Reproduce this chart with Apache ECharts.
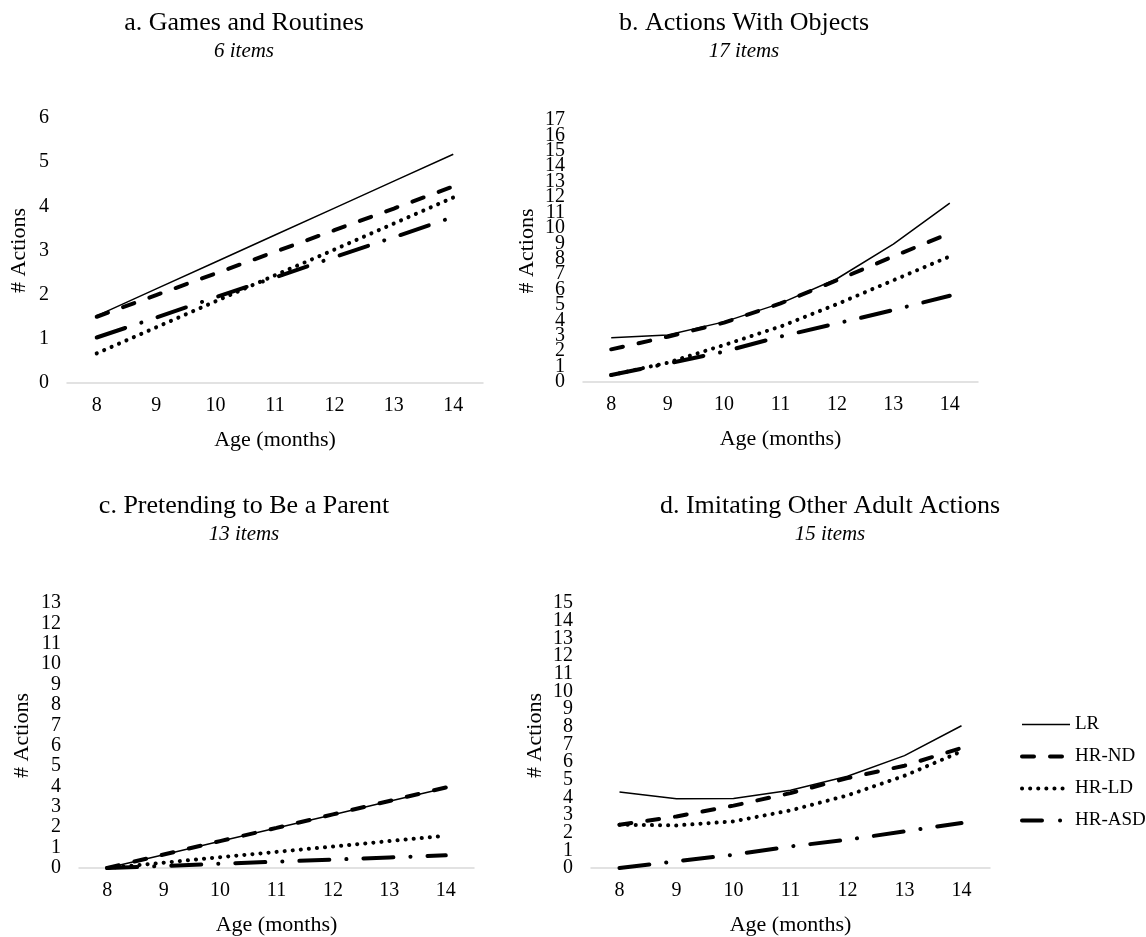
<!DOCTYPE html>
<html>
<head>
<meta charset="utf-8">
<title>Actions by age</title>
<script src="https://cdn.jsdelivr.net/npm/echarts@6/dist/echarts.min.js"></script>
<style>
    html, body { margin: 0; padding: 0; background: #fff; }
    #chart { width: 1146px; height: 937px; }
</style>
</head>
<body>
<div id="chart"></div>
<script>
// x轴 月龄
var months = ['8', '9', '10', '11', '12', '13', '14'];
var groups = ['LR', 'HR-ND', 'HR-LD', 'HR-ASD'];

// a. Games and Routines
var aLR = [1.52, 2.13, 2.74, 3.35, 3.96, 4.57, 5.18];
var aND = [1.50, 1.99, 2.48, 2.97, 3.46, 3.95, 4.45];
var aLD = [0.67, 1.26, 1.85, 2.44, 3.02, 3.61, 4.20];
var aASD = [1.03, 1.48, 1.94, 2.39, 2.85, 3.30, 3.76];

// b. Actions With Objects
var bLR = [2.87, 3.05, 3.90, 5.10, 6.70, 8.95, 11.6];
var bND = [2.12, 2.94, 3.85, 5.10, 6.60, 8.15, 9.65];
var bLD = [0.45, 1.25, 2.40, 3.60, 5.05, 6.60, 8.15];
var bASD = [0.45, 1.20, 1.97, 2.95, 3.80, 4.67, 5.60];

// c. Pretending to Be a Parent
var cLR = [0, 0.65, 1.31, 1.96, 2.61, 3.27, 3.92];
var cND = [0, 0.66, 1.32, 1.97, 2.63, 3.29, 3.95];
var cLD = [0, 0.26, 0.53, 0.79, 1.05, 1.32, 1.58];
var cASD = [0, 0.10, 0.21, 0.31, 0.41, 0.52, 0.62];

// d. Imitating Other Adult Actions
var dLR = [4.30, 3.92, 3.94, 4.40, 5.19, 6.36, 8.05];
var dND = [2.45, 2.92, 3.53, 4.24, 5.09, 5.79, 6.79];
var dLD = [2.45, 2.41, 2.64, 3.26, 4.11, 5.22, 6.60];
var dASD = [0, 0.38, 0.75, 1.22, 1.60, 2.07, 2.55];

var panelTitles = ['a. Games and Routines', 'b. Actions With Objects', 'c. Pretending to Be a Parent', 'd. Imitating Other Adult Actions'];
var panelSubs = ['6 items', '17 items', '13 items', '15 items'];
var panelMax = [6, 17, 13, 15];
var panelData = [
    [aLR, aND, aLD, aASD],
    [bLR, bND, bLD, bASD],
    [cLR, cND, cLD, cASD],
    [dLR, dND, dLD, dASD]
];

var font = "'Liberation Serif', 'Times New Roman', serif";

// 每个小图的位置
var grids = [
    { left: 67, top: 118, width: 416, height: 265 },
    { left: 583, top: 120, width: 395, height: 262 },
    { left: 79, top: 603, width: 395, height: 265 },
    { left: 591, top: 603, width: 399, height: 265 }
];
var titlePos = [
    { x: 244, y: 10 },
    { x: 744, y: 10 },
    { x: 244, y: 493 },
    { x: 830, y: 493 }
];
var yNameGap = [37, 45, 46, 45];

// 线型
var lineStyles = [
    { color: '#000', width: 1.5, type: 'solid' },
    { color: '#000', width: 4, type: [12, 16], cap: 'round' },
    { color: '#000', width: 4, type: [0.1, 8], cap: 'round' },
    { color: '#000', width: 4, type: [30, 17, 0.1, 17], cap: 'round' }
];
// 图例里的线型（短一些，能放下点）
var legendLineStyles = [
    lineStyles[0],
    lineStyles[1],
    lineStyles[2],
    { color: '#000', width: 4, type: [20, 18, 0.1, 18], cap: 'round' }
];

var yLabelStyle = { fontFamily: font, fontSize: 20, color: '#000', margin: 18 };

var titles = [], xAxes = [], yAxes = [], series = [];
for (var p = 0; p < 4; p++) {
    titles.push({
        text: panelTitles[p],
        subtext: panelSubs[p],
        left: titlePos[p].x,
        top: titlePos[p].y,
        textAlign: 'center',
        padding: 0,
        itemGap: 5,
        textStyle: { fontFamily: font, fontSize: 26, fontWeight: 'normal', color: '#000' },
        subtextStyle: { fontFamily: font, fontSize: 21, fontStyle: 'italic', color: '#000' }
    });
    xAxes.push({
        type: 'category',
        gridIndex: p,
        data: months,
        boundaryGap: true,
        name: 'Age (months)',
        nameLocation: 'middle',
        nameGap: 46,
        nameTextStyle: { fontFamily: font, fontSize: 22, color: '#000' },
        axisLine: { lineStyle: { color: '#d9d9d9', width: 1.5 } },
        axisTick: { alignWithLabel: true, length: 5, lineStyle: { color: '#d9d9d9', width: 1.5 } },
        axisLabel: { fontFamily: font, fontSize: 20, color: '#000', margin: 13 },
        splitLine: { show: false }
    });
    // 主y轴：中间的刻度标签（首尾不画，否则挤在一起会被隐藏）
    yAxes.push({
        type: 'value',
        gridIndex: p,
        position: 'left',
        min: 0,
        max: panelMax[p],
        interval: 1,
        name: '# Actions',
        nameLocation: 'middle',
        nameRotate: 90,
        nameGap: yNameGap[p],
        nameTextStyle: { fontFamily: font, fontSize: 22, color: '#000' },
        axisLine: { show: false },
        axisTick: { show: false },
        splitLine: { show: false },
        axisLabel: Object.assign({ showMinLabel: false, showMaxLabel: false }, yLabelStyle)
    });
    // 辅助y轴：只画 0 和最大值
    yAxes.push({
        type: 'value',
        gridIndex: p,
        position: 'left',
        offset: 0,
        min: 0,
        max: panelMax[p],
        interval: panelMax[p],
        axisLine: { show: false },
        axisTick: { show: false },
        splitLine: { show: false },
        axisLabel: yLabelStyle
    });
    for (var g = 0; g < 4; g++) {
        series.push({
            name: groups[g],
            type: 'line',
            xAxisIndex: p,
            yAxisIndex: p * 2,
            data: panelData[p][g],
            symbol: 'none',
            z: 10 - g,
            lineStyle: lineStyles[g],
            emphasis: { disabled: true }
        });
    }
}

// 图例 线型跟上面一致
var legendData = groups.map(function (name, i) {
    return { name: name, lineStyle: legendLineStyles[i], itemStyle: { opacity: 0 } };
});

var myChart = echarts.init(document.getElementById('chart'), null, { renderer: 'canvas' });
myChart.setOption({
    backgroundColor: '#fff',
    animation: false,
    title: titles,
    legend: {
        data: legendData,
        orient: 'vertical',
        left: 1020,
        top: 715,
        padding: 0,
        itemWidth: 48,
        itemHeight: 14,
        itemGap: 13,
        itemStyle: { opacity: 0 },
        textStyle: { fontFamily: font, fontSize: 19, color: '#000' }
    },
    grid: grids.map(function (r) {
        return { left: r.left, top: r.top, width: r.width, height: r.height, containLabel: false, outerBoundsMode: 'none' };
    }),
    xAxis: xAxes,
    yAxis: yAxes,
    series: series
});
</script>
</body>
</html>
